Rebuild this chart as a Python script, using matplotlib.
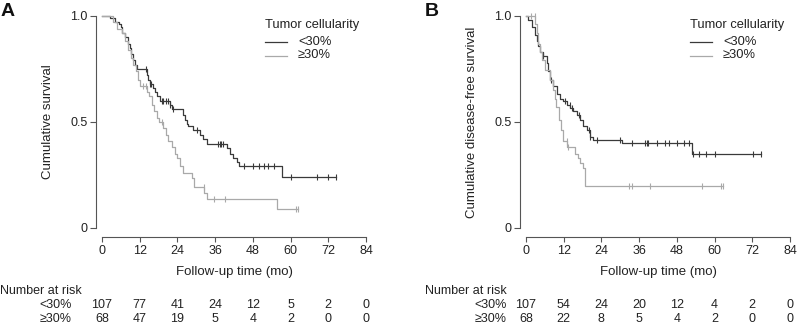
import matplotlib
matplotlib.use('Agg')

import matplotlib.pyplot as plt
from matplotlib.lines import Line2D
from matplotlib.transforms import blended_transform_factory
import numpy as np

plt.rcParams['font.family'] = ['Liberation Sans', 'DejaVu Sans']

# ---- data ----
groups = ['<30%', '\u226530%']
xticks = [0, 12, 24, 36, 48, 60, 72, 84]

# Panel A: overall survival, step times (mo) and survival after each step
a_low_t = [0, 2.5, 4.1, 5.4, 6.0, 6.5, 7.3, 8.4, 8.9, 9.2, 10.0, 10.5, 11.0, 14.2, 14.7, 15.3,
           16.1, 16.9, 17.4, 18.5, 21.6, 22.2, 25.7, 26.4, 27.0, 27.5, 29.0, 31.2, 32.2, 33.3,
           39.7, 40.8, 41.8, 42.9, 43.7, 57.3, 74.5]
a_low_s = [1.0, 0.99, 0.97, 0.96, 0.95, 0.92, 0.90, 0.87, 0.85, 0.82, 0.79, 0.77, 0.75, 0.72, 0.70, 0.68,
           0.66, 0.64, 0.62, 0.60, 0.58, 0.56, 0.53, 0.51, 0.49, 0.48, 0.46, 0.44, 0.42, 0.395,
           0.375, 0.35, 0.33, 0.31, 0.29, 0.24, 0.24]
a_low_cens = [13.9, 15.3, 15.6, 19.0, 19.5, 20.3, 20.9, 21.6, 22.5, 30.1, 37.0, 37.5, 38.0, 38.6,
              45.3, 48.0, 50.1, 51.6, 52.9, 54.8, 60.0, 68.5, 71.8, 74.5]

a_high_t = [0, 3.5, 4.7, 6.3, 7.3, 8.4, 9.2, 10.0, 10.8, 11.6, 12.1, 14.2, 15.0, 15.8, 16.5, 17.4,
            18.2, 19.5, 20.3, 21.1, 22.2, 23.2, 24.0, 24.8, 25.8, 28.5, 29.2, 32.5, 33.4, 55.6, 62.3]
a_high_s = [1.0, 0.97, 0.94, 0.92, 0.88, 0.84, 0.80, 0.77, 0.74, 0.70, 0.67, 0.64, 0.62, 0.58, 0.55, 0.52,
            0.50, 0.47, 0.44, 0.41, 0.38, 0.35, 0.33, 0.29, 0.26, 0.235, 0.19, 0.165, 0.135, 0.088, 0.088]
a_high_cens = [13.1, 14.0, 19.0, 32.3, 35.7, 39.1, 61.8, 62.3]

# Panel B: disease-free survival
b_low_t = [0, 0.7, 1.8, 2.9, 3.4, 3.9, 4.5, 5.5, 6.6, 7.1, 7.6, 8.7, 9.8, 10.8, 11.9, 12.9, 14.0,
           15.1, 16.1, 17.2, 18.2, 19.3, 20.4, 21.4, 30.4, 52.7, 74.8]
b_low_s = [1.0, 0.98, 0.95, 0.91, 0.88, 0.86, 0.83, 0.81, 0.78, 0.74, 0.70, 0.67, 0.63, 0.61, 0.60, 0.58,
           0.565, 0.55, 0.53, 0.51, 0.48, 0.46, 0.43, 0.414, 0.398, 0.35, 0.35]
b_low_cens = [5.5, 8.0, 12.5, 13.9, 14.5, 17.0, 20.0, 20.5, 22.6, 30.0, 33.8, 37.9, 38.4, 38.7, 41.6,
              44.2, 45.5, 48.0, 50.3, 51.9, 53.0, 55.1, 57.3, 60.1, 72.1, 74.8]

b_high_t = [0, 2.9, 3.4, 3.9, 4.5, 5.0, 6.0, 7.6, 8.5, 9.2, 9.7, 10.6, 11.1, 11.8, 13.2, 15.6, 16.5,
            17.2, 18.2, 18.8, 62.6]
b_high_s = [1.0, 0.96, 0.92, 0.87, 0.83, 0.79, 0.745, 0.70, 0.65, 0.61, 0.57, 0.51, 0.46, 0.41, 0.38,
            0.35, 0.33, 0.305, 0.28, 0.197, 0.197]
b_high_cens = [1.6, 2.8, 13.0, 13.5, 32.9, 33.7, 39.5, 56.1, 62.0, 62.6]

a_risk = [[107, 77, 41, 24, 12, 5, 2, 0], [68, 47, 19, 5, 4, 2, 0, 0]]
b_risk = [[107, 54, 24, 20, 12, 4, 2, 0], [68, 22, 8, 5, 4, 2, 0, 0]]

DARK = '#3a3a3a'
LIGHT = '#a9a9a9'
TXT = '#222222'
FS = 9
W, H = 798, 325


def px(x, y):
    return x / W, 1 - y / H


def km(ax, t, s, cens, color):
    t = np.asarray(t)
    s = np.asarray(s)
    ax.plot(t, s, drawstyle='steps-post', color=color, lw=0.9, clip_on=False)
    idx = np.searchsorted(t, cens, side='right') - 1
    ax.plot(cens, s[idx], ls='none', marker='|', ms=4.5, mew=0.8, color=color, clip_on=False)


fig = plt.figure(figsize=(W / 100, H / 100), dpi=100)


def panel(x0, letter, ylabel, curves, risk, ylab_x, leg_x, nar_x, rowlab_x):
    ax = fig.add_axes([x0 / W, (H - 227.7) / H, 264 / W, 211.7 / H])
    for t, s, c, col in curves:
        km(ax, t, s, c, col)
    ax.set_xlim(0, 84)
    ax.set_ylim(0, 1)
    ax.set_xticks(xticks)
    ax.set_yticks([0, 0.5, 1.0])
    ax.set_yticklabels(['0', '0.5', '1.0'])
    for side in ['top', 'right']:
        ax.spines[side].set_visible(False)
    ax.spines['left'].set_position(('outward', 4.3))
    ax.spines['bottom'].set_position(('outward', 6.7))
    ax.spines['left'].set_bounds(0, 1)
    ax.spines['bottom'].set_bounds(0, 84)
    for sp in ['left', 'bottom']:
        ax.spines[sp].set_color('#555555')
        ax.spines[sp].set_linewidth(0.8)
    ax.tick_params(axis='y', length=4.3, width=0.8, color='#555555', labelsize=FS,
                   labelcolor=TXT, pad=2)
    ax.tick_params(axis='x', length=3.5, width=0.8, color='#555555', labelsize=FS,
                   labelcolor=TXT, pad=2.5)

    fig.text(*px(x0 - 102 + 1, 12), letter, fontsize=14, fontweight='bold',
             ha='left', va='center', color='#111111')
    fig.text(*px(ylab_x, 122), ylabel, rotation=90, fontsize=FS + 0.5,
             ha='center', va='center', color=TXT)
    fig.text(*px(x0 + 132, 272), 'Follow-up time (mo)', fontsize=FS + 0.5,
             ha='center', va='center', color=TXT)

    # legend
    fig.text(*px(leg_x, 25), 'Tumor cellularity', fontsize=FS + 0.3, ha='left', va='center', color=TXT)
    for k, (lab, col) in enumerate(zip(groups, [DARK, LIGHT])):
        yy = 42 + 13.5 * k
        fig.add_artist(Line2D([leg_x / W, (leg_x + 22) / W], [1 - yy / H] * 2,
                              color=col, lw=0.9, transform=fig.transFigure))
        fig.text(*px(leg_x + 33, yy), lab, fontsize=FS + 0.3, ha='left', va='center', color=TXT)

    # number at risk table
    fig.text(*px(nar_x, 291), 'Number at risk', fontsize=FS, ha='left', va='center', color=TXT)
    tr = blended_transform_factory(ax.transData, fig.transFigure)
    for k, row in enumerate(risk):
        yy = 1 - (305 + 14 * k) / H
        fig.text(rowlab_x / W, yy, groups[k], fontsize=FS, ha='right', va='center', color=TXT)
        for xv, n in zip(xticks, row):
            ax.text(xv, yy, str(n), transform=tr, fontsize=FS, ha='center', va='center',
                    color=TXT, clip_on=False)
    return ax


panel(102, 'A', 'Cumulative survival',
      [(a_low_t, a_low_s, a_low_cens, DARK), (a_high_t, a_high_s, a_high_cens, LIGHT)],
      a_risk, 48, 265, 0, 72)
panel(526, 'B', 'Cumulative disease-free survival',
      [(b_low_t, b_low_s, b_low_cens, DARK), (b_high_t, b_high_s, b_high_cens, LIGHT)],
      b_risk, 472, 690, 425, 507)

fig.savefig('out.png', dpi=100)
plt.close(fig)
